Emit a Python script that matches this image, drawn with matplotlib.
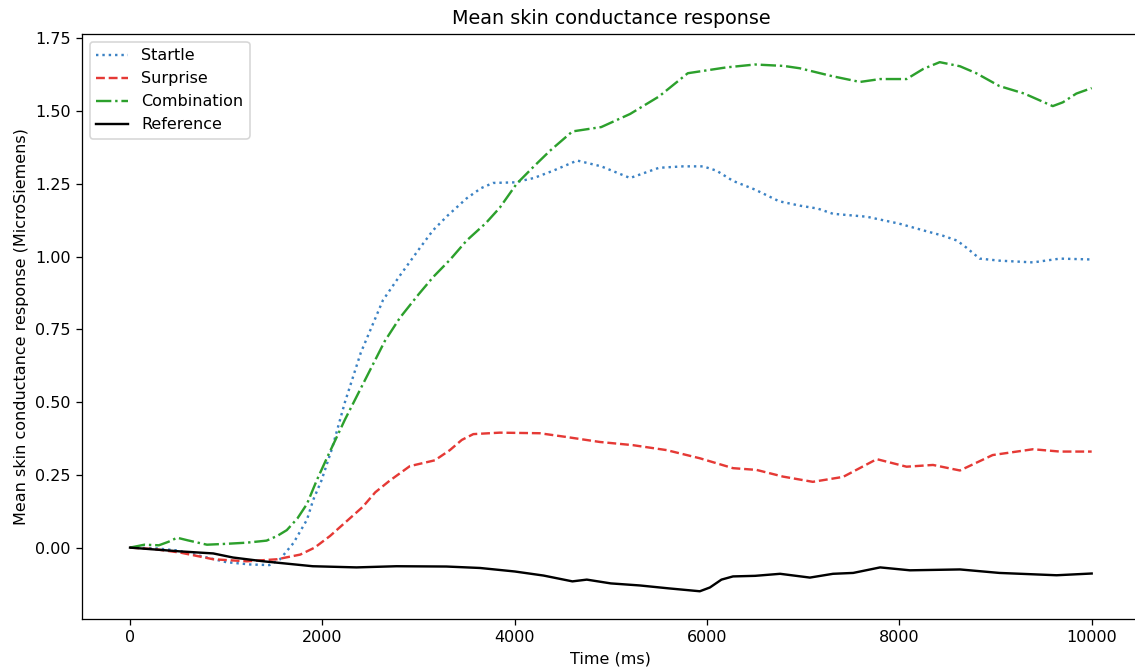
import numpy as np
import matplotlib.pyplot as plt

# Mean SCR per condition, time in ms, response in microsiemens
startle_t = [0, 250, 500, 750, 1000, 1250, 1450, 1560, 1700, 1840, 1905, 1990, 2100,
             2235, 2400, 2630, 2807, 3015, 3150, 3300, 3500, 3650, 3775, 4000, 4200,
             4400, 4650, 4900, 5200, 5500, 5750, 5960, 6100, 6270, 6500, 6750, 6965,
             7150, 7310, 7660, 8000, 8250, 8450, 8600, 8700, 8835, 9040, 9390, 9670, 10000]
startle = [0.0, -0.002, -0.01, -0.03, -0.05, -0.058, -0.06, -0.04, 0.016, 0.096, 0.164,
           0.23, 0.34, 0.5, 0.67, 0.85, 0.935, 1.03, 1.09, 1.14, 1.2, 1.235, 1.253, 1.255,
           1.27, 1.295, 1.33, 1.31, 1.27, 1.305, 1.31, 1.31, 1.295, 1.26, 1.23, 1.19, 1.175,
           1.165, 1.147, 1.137, 1.113, 1.09, 1.072, 1.055, 1.03, 0.993, 0.986, 0.98, 0.993, 0.99]

surprise_t = [0, 250, 520, 865, 1215, 1530, 1770, 1920, 2080, 2250, 2420, 2550, 2700,
              2910, 3170, 3326, 3450, 3570, 3845, 4260, 4540, 4885, 5230, 5580, 5925,
              6270, 6515, 6790, 7100, 7415, 7765, 8075, 8350, 8630, 8970, 9390, 9670, 10000]
surprise = [0.0, -0.005, -0.017, -0.04, -0.047, -0.04, -0.024, 0.0, 0.04, 0.09, 0.14,
            0.19, 0.23, 0.28, 0.3, 0.335, 0.37, 0.39, 0.395, 0.393, 0.38, 0.363, 0.352,
            0.335, 0.307, 0.273, 0.267, 0.244, 0.226, 0.243, 0.304, 0.278, 0.284, 0.265,
            0.318, 0.338, 0.33, 0.33]

combination_t = [0, 150, 300, 400, 490, 600, 800, 1000, 1215, 1420, 1530, 1630, 1740,
                 1840, 1940, 2050, 2235, 2450, 2650, 2807, 3000, 3153, 3330, 3500, 3700,
                 3845, 4020, 4200, 4365, 4600, 4900, 5200, 5500, 5800, 6000, 6200, 6500,
                 6800, 6965, 7300, 7590, 7800, 8075, 8250, 8420, 8630, 8800, 9040, 9300,
                 9595, 9700, 9840, 10000]
combination = [0.0, 0.01, 0.008, 0.02, 0.034, 0.025, 0.01, 0.013, 0.017, 0.024, 0.04,
               0.06, 0.1, 0.15, 0.23, 0.31, 0.44, 0.58, 0.71, 0.79, 0.87, 0.93, 0.99,
               1.055, 1.115, 1.168, 1.25, 1.31, 1.363, 1.43, 1.445, 1.49, 1.55, 1.63,
               1.64, 1.65, 1.66, 1.655, 1.647, 1.62, 1.6, 1.61, 1.61, 1.645, 1.668, 1.654,
               1.63, 1.586, 1.56, 1.517, 1.53, 1.56, 1.579]

reference_t = [0, 520, 865, 1070, 1385, 1900, 2355, 2770, 3290, 3640, 4000, 4300, 4600,
               4750, 5000, 5300, 5600, 5925, 6030, 6150, 6270, 6500, 6760, 7070, 7310,
               7520, 7800, 8110, 8630, 9040, 9635, 10000]
reference = [0.0, -0.013, -0.02, -0.034, -0.047, -0.064, -0.068, -0.064, -0.065, -0.07,
             -0.082, -0.096, -0.116, -0.11, -0.123, -0.13, -0.14, -0.15, -0.137, -0.11,
             -0.099, -0.097, -0.09, -0.103, -0.09, -0.087, -0.068, -0.078, -0.075, -0.087,
             -0.095, -0.089]

fig = plt.figure(figsize=(1135 / 115, 672 / 115), dpi=115)
ax = fig.add_axes([0.0722, 0.079, 0.932, 0.8705])

ax.plot(startle_t, startle, linestyle=':', color='#3b82c4', label='Startle')
ax.plot(surprise_t, surprise, linestyle='--', color='#e53935', label='Surprise')
ax.plot(combination_t, combination, linestyle='-.', color='#2ca02c', label='Combination')
ax.plot(reference_t, reference, linestyle='-', color='black', label='Reference')

ax.set_xlim(-500, 10500)
ax.set_ylim(-0.245, 1.765)
ax.set_yticks(np.arange(0, 1.76, 0.25))
# right edge of the axes falls just outside the canvas
ax.spines['right'].set_visible(False)
ax.set_title('Mean skin conductance response')
ax.set_xlabel('Time (ms)')
ax.set_ylabel('Mean skin conductance response (MicroSiemens)')
ax.legend(loc='upper left')

fig.savefig('out.png', dpi=115)
